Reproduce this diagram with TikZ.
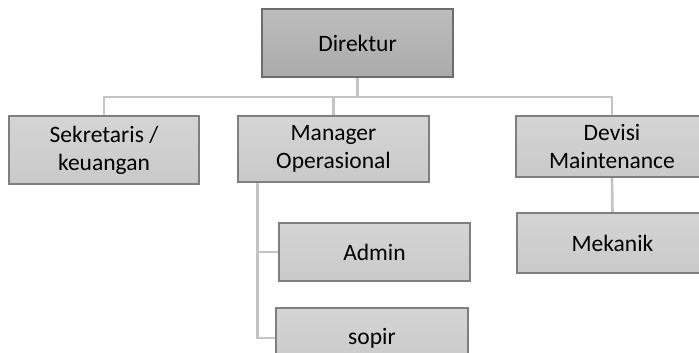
\documentclass[tikz,border=0pt]{standalone}
\usepackage{fontspec}
\setmainfont{Carlito}
\usetikzlibrary{backgrounds}
\definecolor{boxline}{HTML}{7F7F7F}
\definecolor{topline}{HTML}{6D6D6D}
\definecolor{linkgray}{HTML}{C4C4C4}
\begin{document}
\begin{tikzpicture}[x=1pt,y=-1pt,
  box/.style={draw=boxline,line width=1.1pt,top color=gray!33,bottom color=gray!42,
    minimum width=191pt,minimum height=66pt,inner sep=0pt,align=center,
    font=\fontsize{23.5}{28}\selectfont},
  topbox/.style={box,draw=topline,top color=gray!52,bottom color=gray!66,minimum height=68pt},
  link/.style={draw=linkgray,line width=2.6pt}]
\useasboundingbox (0,0) rectangle (699,353);
\clip (0,0) rectangle (699,353);
%nodes
\node[topbox] (dir) at (357.5,43) {Direktur};
\node[box,minimum width=190pt,minimum height=68pt] (sek) at (104,150) {Sekretaris /\\keuangan};
\node[box] (man) at (333.5,149) {Manager\\Operasional};
\node[box,minimum width=192pt,minimum height=61pt] (dev) at (612,146.5) {Devisi\\Maintenance};
\node[box,minimum height=60pt] (mek) at (612.5,243) {Mekanik};
\node[box,minimum height=58pt] (adm) at (374.5,252) {Admin};
\node[box,minimum width=192pt,minimum height=60pt] (sop) at (372,338) {sopir};
\coordinate (bus) at (357.5,97);
\coordinate (trunk) at ([xshift=20pt]man.south west);
%connectors
\begin{pgfonlayer}{background}
\draw[link] (dir.south) -- (bus);
\draw[link] (sek.north) |- (dev.north |- bus) -- (dev.north);
\draw[link] (man.north) -- (man.north |- bus);
\draw[link] (trunk) |- (adm.west);
\draw[link] (trunk) |- (sop.west);
\draw[link] (dev.south) -- (mek.north);
\end{pgfonlayer}
\end{tikzpicture}
\end{document}
